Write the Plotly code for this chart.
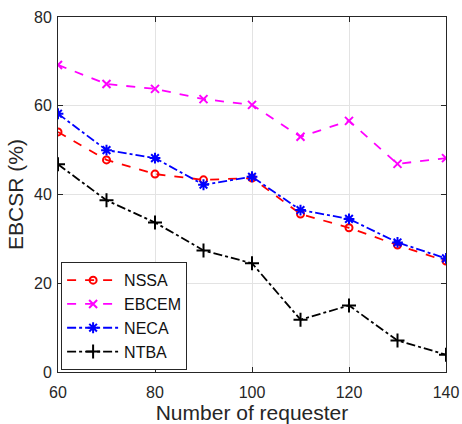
import plotly.graph_objects as go

x = [60, 70, 80, 90, 100, 110, 120, 130, 140]
nssa = [54.1, 47.8, 44.6, 43.3, 43.7, 35.6, 32.5, 28.6, 25.0]
ebcem = [69.2, 64.9, 63.8, 61.5, 60.2, 53.0, 56.6, 46.9, 48.2]
neca = [58.2, 50.0, 48.2, 42.2, 44.0, 36.5, 34.5, 29.2, 25.6]
ntba = [46.8, 38.7, 33.7, 27.4, 24.5, 11.8, 15.0, 7.1, 3.9]

series = [
    ("NSSA", nssa, "red", "dash", "circle-open", 7),
    ("EBCEM", ebcem, "magenta", "dash", "x-thin-open", 8),
    ("NECA", neca, "blue", "dashdot", "asterisk-open", 9),
    ("NTBA", ntba, "black", "dashdot", "cross-thin-open", 10),
]

FONT = "Liberation Sans, Arial"

fig = go.Figure()
for name, y, c, dash, sym, sz in series:
    fig.add_trace(go.Scatter(
        x=x, y=y, name=name, mode="lines+markers",
        line=dict(color=c, dash=dash, width=1.8),
        marker=dict(symbol=sym, size=sz, color=c, line=dict(color=c, width=2)),
    ))

axis_common = dict(
    showline=True, linecolor="#262626", linewidth=1, mirror="ticks",
    ticks="inside", ticklen=5, tickcolor="#262626",
    showgrid=True, gridcolor="#e3e3e3", gridwidth=1, zeroline=False,
    automargin=False,
    tickfont=dict(family=FONT, size=16, color="#262626"),
)

fig.update_xaxes(range=[60, 140], dtick=20, ticklabelstandoff=6,
                 title=dict(text="Number of requester", font=dict(family=FONT, size=21, color="#262626"), standoff=2),
                 **axis_common)
fig.update_yaxes(range=[0, 80], dtick=20, ticklabelstandoff=2,
                 title=dict(text="EBCSR (%)", font=dict(family=FONT, size=21, color="#262626"), standoff=4),
                 **axis_common)

fig.update_layout(
    width=462, height=424,
    margin=dict(l=58, r=16, t=17, b=52),
    paper_bgcolor="white", plot_bgcolor="white",
    showlegend=True,
    legend=dict(x=0.008, y=0.005, xanchor="left", yanchor="bottom",
                bgcolor="white", bordercolor="#262626", borderwidth=1,
                font=dict(family=FONT, size=16, color="#111111"),
                tracegroupgap=0, itemwidth=52),
)

fig.write_html("out.html")
